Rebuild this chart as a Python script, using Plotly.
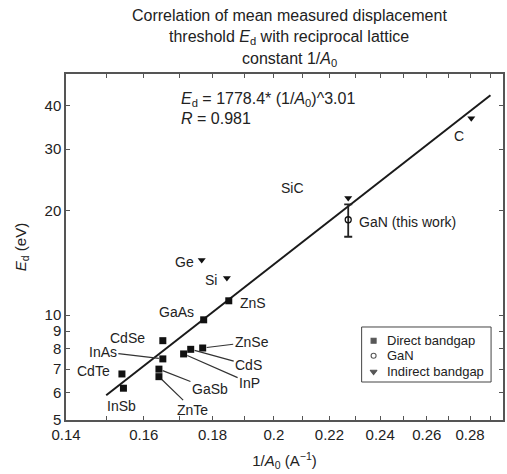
import numpy as np
import plotly.graph_objects as go

# Direct-bandgap semiconductors: reciprocal lattice constant (1/Å) and Ed (eV)
direct_names = ["ZnS", "GaAs", "CdSe", "InAs", "CdTe", "InSb", "GaSb", "ZnTe", "InP", "CdS", "ZnSe"]
direct_x = [0.1851, 0.1773, 0.1653, 0.1653, 0.1541, 0.1545, 0.1642, 0.1642, 0.1713, 0.1734, 0.1770]
direct_y = [11.0, 9.7, 8.45, 7.49, 6.78, 6.17, 7.0, 6.66, 7.74, 7.98, 8.05]

# Indirect-bandgap semiconductors
indirect_names = ["C", "SiC", "Ge", "Si"]
indirect_x = [0.2806, 0.2272, 0.1767, 0.1845]
indirect_y = [36.8, 21.7, 14.4, 12.8]

# GaN (this work) with its uncertainty
gan_x = [0.2272]
gan_y = [18.8]
gan_err = [2.0]

# Power-law fit Ed = a * (1/A0)^b
fit_a = 1778.4
fit_b = 3.01
fit_r = 0.981
fit_x = [0.15, 0.29]

x_ticks = [0.14, 0.16, 0.18, 0.20, 0.22, 0.24, 0.26, 0.28]
x_ticktext = ["0.14", "0.16", "0.18", "0.2", "0.22", "0.24", "0.26", "0.28"]
x_minor = [0.15, 0.17, 0.19, 0.21, 0.23, 0.25, 0.27, 0.29]
y_ticks = [5, 6, 7, 8, 9, 10, 20, 30, 40]

legend_labels = ["Direct bandgap", "GaN", "Indirect bandgap"]

# label placement: pixel offset of label centre from the marker, and whether a leader line is drawn
label_pos = {
    "C": (-12, 18, False), "SiC": (-56, -10, False), "Ge": (-17, 2, False), "Si": (-16, 2, False),
    "ZnS": (24, 2, False), "GaAs": (-27, -8, False), "CdSe": (-35, -3, False),
    "InAs": (-60, -7, True), "CdTe": (-28, -3, False), "InSb": (-2, 18, False),
    "GaSb": (51, 20, True), "ZnTe": (34, 33, True), "InP": (66, 29, True),
    "CdS": (58, 16, True), "ZnSe": (49, -6, True),
}

TXT = "#222222"
FONT = "Liberation Sans, Arial, sans-serif"
MARK = "#111111"

fig = go.Figure()

fit_y = [fit_a * v ** fit_b for v in fit_x]
fig.add_trace(go.Scatter(x=fit_x, y=fit_y, mode="lines", line=dict(color="#1a1a1a", width=2),
                         showlegend=False, hoverinfo="skip"))

fig.add_trace(go.Scatter(x=direct_x, y=direct_y, mode="markers", name=legend_labels[0], showlegend=False,
                         marker=dict(symbol="square", size=7, color=MARK)))
fig.add_trace(go.Scatter(x=gan_x, y=gan_y, mode="markers", name=legend_labels[1], showlegend=False,
                         marker=dict(symbol="circle-open", size=6, color=MARK, line=dict(width=1.3)),
                         error_y=dict(type="data", array=gan_err, color="#222222", thickness=1.8, width=4)))
fig.add_trace(go.Scatter(x=indirect_x, y=indirect_y, mode="markers", name=legend_labels[2], showlegend=False,
                         marker=dict(symbol="triangle-down", size=7, color=MARK)))

# compact key drawn on an overlay axis spanning the plot area (0..1 in both directions)
key_x = 0.7039
key_rows = [0.2292, 0.1858, 0.1396]
key_symbols = ["square", "circle-open", "triangle-down"]
key_sizes = [5, 5, 6]
fig.add_trace(go.Scatter(x=[key_x] * 3, y=key_rows, mode="markers", xaxis="x2", yaxis="y2",
                         showlegend=False, hoverinfo="skip",
                         marker=dict(symbol=key_symbols, size=key_sizes, color=MARK, line=dict(width=1.1, color=MARK))))

annotations = []
for names, xs, ys in ((direct_names, direct_x, direct_y), (indirect_names, indirect_x, indirect_y)):
    for n, xv, yv in zip(names, xs, ys):
        dx, dy, leader = label_pos[n]
        if leader:
            annotations.append(dict(x=np.log10(xv), y=np.log10(yv), text=n, showarrow=True,
                                    ax=dx, ay=dy, arrowhead=0, arrowwidth=1.2, arrowcolor="#333333",
                                    standoff=4, font=dict(size=14, color=TXT, family=FONT)))
        else:
            annotations.append(dict(x=np.log10(xv), y=np.log10(yv), text=n, showarrow=False,
                                    xshift=dx, yshift=-dy, font=dict(size=14, color=TXT, family=FONT)))

annotations.append(dict(x=np.log10(gan_x[0]), y=np.log10(gan_y[0]), text="GaN (this work)",
                        showarrow=False, xanchor="left", xshift=9, yshift=-2,
                        font=dict(size=14, color=TXT, family=FONT)))

# fit equation
annotations.append(dict(xref="paper", yref="paper", x=0.2597, y=0.9277, yanchor="middle",
                        text=f"<i>E</i><sub>d</sub> = {fit_a}* (1/<i>A</i><sub>0</sub>)^{fit_b}",
                        showarrow=False, font=dict(size=16, color=TXT, family=FONT)))
annotations.append(dict(xref="paper", yref="paper", x=0.2597, y=0.870, yanchor="middle",
                        text=f"<i>R</i> = {fit_r}", showarrow=False,
                        font=dict(size=16, color=TXT, family=FONT)))

# key labels
for lab, yp in zip(legend_labels, key_rows):
    annotations.append(dict(xref="paper", yref="paper", x=0.7289, y=yp, xanchor="left", yanchor="middle",
                            text=lab, showarrow=False, font=dict(size=13, color=TXT, family=FONT)))

# three-line title
title_lines = ["Correlation of mean measured displacement",
               "threshold <i>E</i><sub>d</sub> with reciprocal lattice",
               "constant 1/<i>A</i><sub>0</sub>"]
for line, yp in zip(title_lines, [1.1705, 1.1055, 1.0405]):
    annotations.append(dict(xref="paper", yref="paper", x=0.5103, y=yp, yanchor="middle",
                            text=line, showarrow=False, font=dict(size=16, color=TXT, family=FONT)))

axis_common = dict(showgrid=False, zeroline=False, showline=True, linecolor="#555555", linewidth=1.5,
                   ticks="inside", ticklen=4, tickcolor="#555555", mirror="ticks",
                   tickfont=dict(size=15, color=TXT, family=FONT))

fig.update_layout(
    width=507, height=474, autosize=False,
    margin=dict(l=66, r=2, t=74, b=54),
    paper_bgcolor="white", plot_bgcolor="white",
    font=dict(family=FONT, color=TXT),
    xaxis=dict(type="log", range=[np.log10(0.14), np.log10(0.2963)],
               tickmode="array", tickvals=x_ticks, ticktext=x_ticktext,
               minor=dict(tickmode="array", tickvals=x_minor, ticks="inside", ticklen=4,
                          tickcolor="#555555", showgrid=False),
               title=dict(text="1/<i>A</i><sub>0</sub> (A<sup>−1</sup>)", font=dict(size=15, color=TXT), standoff=14),
               **axis_common),
    yaxis=dict(type="log", range=[np.log10(5), np.log10(49.3)],
               tickmode="array", tickvals=y_ticks, ticktext=[str(v) for v in y_ticks],
               title=dict(text="<i>E</i><sub>d</sub> (eV)", font=dict(size=15, color=TXT), standoff=14),
               **axis_common),
    xaxis2=dict(overlaying="x", range=[0, 1], visible=False, fixedrange=True),
    yaxis2=dict(overlaying="y", range=[0, 1], visible=False, fixedrange=True),
    shapes=[dict(type="rect", xref="paper", yref="paper", x0=0.6765, x1=0.9727, y0=0.1098, y1=0.2688,
                 line=dict(color="#444444", width=1), fillcolor="rgba(0,0,0,0)", layer="above")],
    annotations=annotations,
    showlegend=False,
)

fig.write_html("out.html")
